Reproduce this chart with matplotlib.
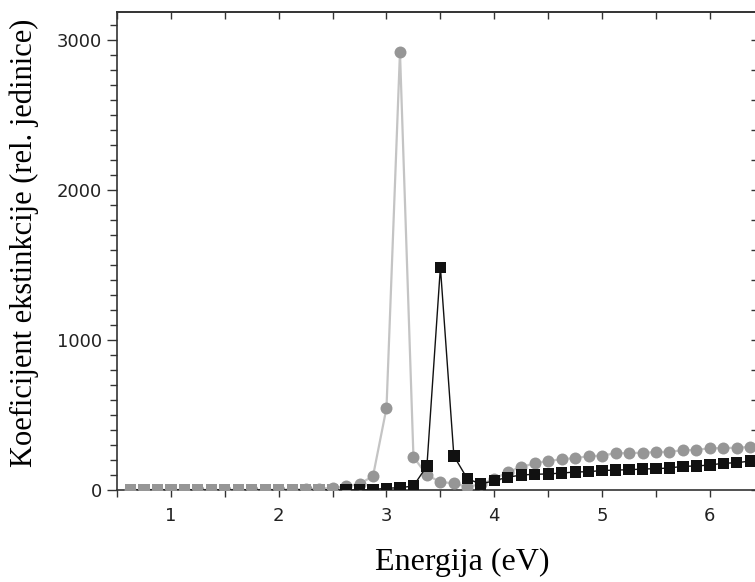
import numpy as np
import matplotlib
matplotlib.use("Agg")
import matplotlib.pyplot as plt
from matplotlib.ticker import MultipleLocator, NullFormatter

# ---------------------------------------------------------------------------
# Data
# ---------------------------------------------------------------------------
energy = [0.625, 0.75, 0.875, 1.0, 1.125, 1.25, 1.375, 1.5, 1.625, 1.75,
          1.875, 2.0, 2.125, 2.25, 2.375, 2.5, 2.625, 2.75, 2.875, 3.0,
          3.125, 3.25, 3.375, 3.5, 3.625, 3.75, 3.875, 4.0, 4.125, 4.25,
          4.375, 4.5, 4.625, 4.75, 4.875, 5.0, 5.125, 5.25, 5.375, 5.5,
          5.625, 5.75, 5.875, 6.0, 6.125, 6.25, 6.375]

# gray circles
ext_gray = [0, 0, 0, 0, 0, 0, 0, 0, 0, 0,
            0, 2, 3, 5, 8, 15, 25, 40, 93, 547,
            2920, 220, 100, 53, 45, 20, 40, 73, 120, 153,
            178, 193, 205, 213, 225, 230, 245, 247, 248, 253,
            255, 265, 268, 278, 280, 282, 287]

# black squares
ext_black = [0, 0, 0, 0, 0, 0, 0, 0, 0, 0,
             0, 0, 0, 0, 0, 0, 0, 0, 3, 12,
             15, 27, 160, 1485, 227, 75, 40, 62, 85, 100,
             105, 107, 113, 120, 122, 130, 133, 135, 140, 142,
             147, 158, 160, 167, 178, 182, 193]

xlabel = "Energija (eV)"
ylabel = "Koeficijent ekstinkcije (rel. jedinice)"

# ---------------------------------------------------------------------------
# Style
# ---------------------------------------------------------------------------
GRAY_MARK = "#969696"
GRAY_LINE = "#c4c4c4"
BLACK = "#111111"
SPINE = "#333333"

plt.rcParams.update({
    "font.family": "DejaVu Sans",
    "font.size": 13,
})

fig = plt.figure(figsize=(7.55, 5.82), dpi=100)
ax = fig.add_axes([117 / 755, 92 / 582, 640 / 755, 478 / 582])

e = np.asarray(energy)
g = np.asarray(ext_gray)
b = np.asarray(ext_black)

ax.plot(e, g, color=GRAY_LINE, lw=1.6, zorder=2)
ax.plot(e, g, "o", ms=8.6, mfc=GRAY_MARK, mec=GRAY_MARK, mew=0, zorder=3)

ax.plot(e, b, color=BLACK, lw=1.0, zorder=4)
sq_colors = np.where(e < 2.6, GRAY_MARK, BLACK)
ax.scatter(e, b, marker="s", s=66, c=sq_colors, linewidths=0, zorder=5)

ax.set_xlim(0.5, 6.437)
ax.set_ylim(0, 3187)

# bottom / left ticks (outward)
ax.xaxis.set_major_locator(MultipleLocator(1))
ax.xaxis.set_minor_locator(MultipleLocator(0.5))
ax.yaxis.set_major_locator(MultipleLocator(1000))
ax.yaxis.set_minor_locator(MultipleLocator(100))
ax.tick_params(axis="x", which="both", direction="out", length=5,
               width=1.0, color=SPINE, pad=7, labelcolor="#222222")
ax.tick_params(axis="y", which="major", direction="out", length=7,
               width=1.0, color=SPINE, pad=4, labelcolor="#222222")
ax.tick_params(axis="y", which="minor", direction="out", length=5,
               width=1.0, color=SPINE)

# top / right ticks (inward)
top = ax.secondary_xaxis("top")
top.xaxis.set_major_locator(MultipleLocator(0.5))
top.xaxis.set_major_formatter(NullFormatter())
top.tick_params(direction="in", length=5, width=1.0, color=SPINE)
top.spines["top"].set_color(SPINE)
top.spines["top"].set_linewidth(1.2)

right = ax.secondary_yaxis("right")
right.yaxis.set_major_locator(MultipleLocator(200))
right.yaxis.set_major_formatter(NullFormatter())
right.tick_params(direction="in", length=4, width=1.0, color=SPINE)

for side in ("left", "bottom", "top", "right"):
    ax.spines[side].set_color(SPINE)
    ax.spines[side].set_linewidth(1.2)

ax.set_xlabel(xlabel, family="Liberation Serif", fontsize=23)
ax.set_ylabel(ylabel, family="Liberation Serif", fontsize=22)
ax.xaxis.set_label_coords(0.54, -0.122)
ax.yaxis.set_label_coords(-0.122, 0.517)

fig.savefig("out.png", dpi=100)
